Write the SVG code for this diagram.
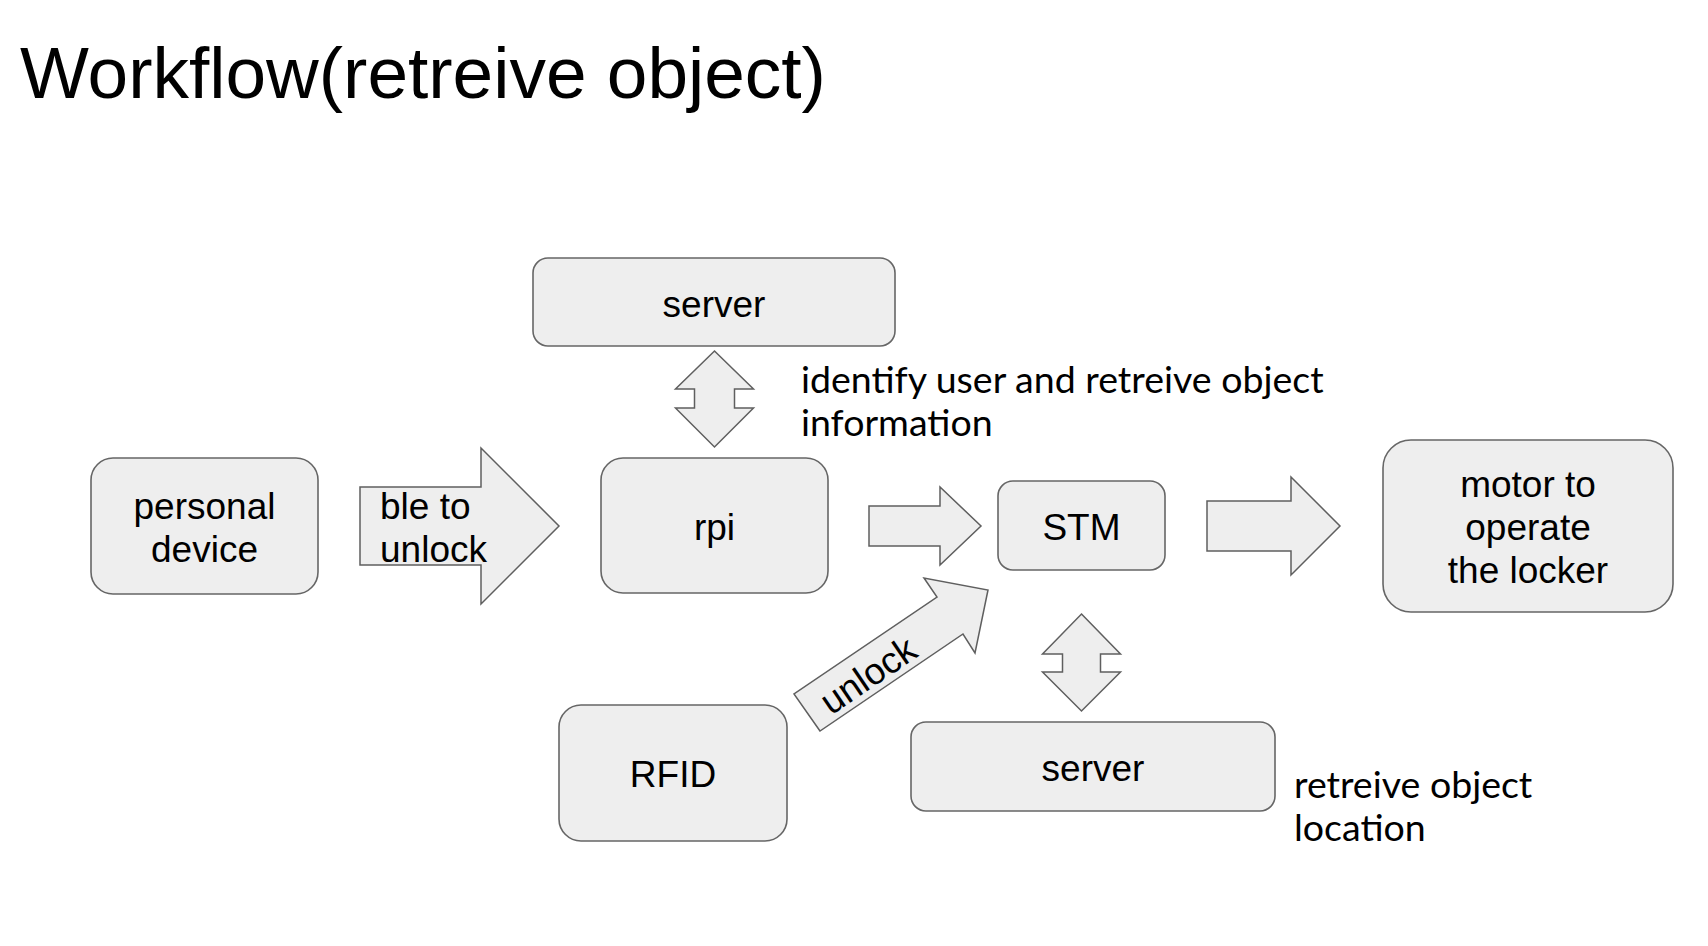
<svg xmlns="http://www.w3.org/2000/svg" width="1708" height="946" viewBox="0 0 1708 946">
<style>
.box{fill:#eeeeee;stroke:#666666;stroke-width:1.6}
.arr{fill:#eeeeee;stroke:#5f5f5f;stroke-width:1.5;stroke-linejoin:miter}
.t{font-family:"Liberation Sans",Arial,sans-serif;font-size:37px;fill:#000}
.c{text-anchor:middle}
.n{font-family:Lato,"Liberation Sans",sans-serif;font-size:37.5px;fill:#000}
</style>
<rect width="1708" height="946" fill="#ffffff"/>
<text x="20" y="98" style="font-family:'Liberation Sans',Arial,sans-serif;font-size:73px;fill:#000">Workflow(retreive object)</text>

<g id="connectors">
  <g id="arrow-ble">
    <path class="arr" d="M360,487 H481 V448 L559,526 L481,604 V565 H360 Z"/>
    <text class="t" x="380" y="519">ble to</text>
    <text class="t" x="380" y="562">unlock</text>
  </g>
  <path id="arrow-server-rpi" class="arr" d="M714.5,351 L753.5,389 H734.5 V408 H753.5 L714.5,447 L675.5,408 H694.5 V389 H675.5 Z"/>
  <path id="arrow-rpi-stm" class="arr" d="M869,506 H940 V487 L981,526 L940,565 V546 H869 Z"/>
  <path id="arrow-stm-motor" class="arr" d="M1207,501 H1291 V477 L1340,526 L1291,575 V551 H1207 Z"/>
  <path id="arrow-stm-server" class="arr" d="M1081.5,614 L1120.5,654 H1100.5 V672 H1120.5 L1081.5,711 L1042.5,672 H1062.5 V654 H1042.5 Z"/>
  <g id="arrow-rfid-stm">
    <path class="arr" d="M820,731 L794,694 L937,597 L924,578 L988,590 L975,653 L963,634 Z"/>
    <text class="t c" transform="translate(868,675) rotate(-34.2)" x="0" y="13">unlock</text>
  </g>
</g>

<g id="server-top">
  <rect class="box" x="533" y="258" width="362" height="88" rx="15"/>
  <text class="t c" x="714" y="317">server</text>
</g>
<text class="n" x="801" y="393">identify user and retreive object</text>
<text class="n" x="801" y="436">information</text>

<g id="personal-device">
  <rect class="box" x="91" y="458" width="227" height="136" rx="22"/>
  <text class="t c" x="204.5" y="519">personal</text>
  <text class="t c" x="204.5" y="562">device</text>
</g>

<g id="rpi">
  <rect class="box" x="601" y="458" width="227" height="135" rx="22"/>
  <text class="t c" x="714.5" y="540">rpi</text>
</g>

<g id="stm">
  <rect class="box" x="998" y="481" width="167" height="89" rx="15"/>
  <text class="t c" x="1081.5" y="540">STM</text>
</g>

<g id="motor">
  <rect class="box" x="1383" y="440" width="290" height="172" rx="28"/>
  <text class="t c" x="1528" y="497">motor to</text>
  <text class="t c" x="1528" y="540">operate</text>
  <text class="t c" x="1528" y="583">the locker</text>
</g>

<g id="rfid">
  <rect class="box" x="559" y="705" width="228" height="136" rx="22"/>
  <text class="t c" x="673" y="787">RFID</text>
</g>

<g id="server-bottom">
  <rect class="box" x="911" y="722" width="364" height="89" rx="15"/>
  <text class="t c" x="1093" y="781">server</text>
</g>
<text class="n" x="1294" y="798">retreive object</text>
<text class="n" x="1294" y="841">location</text>
</svg>
